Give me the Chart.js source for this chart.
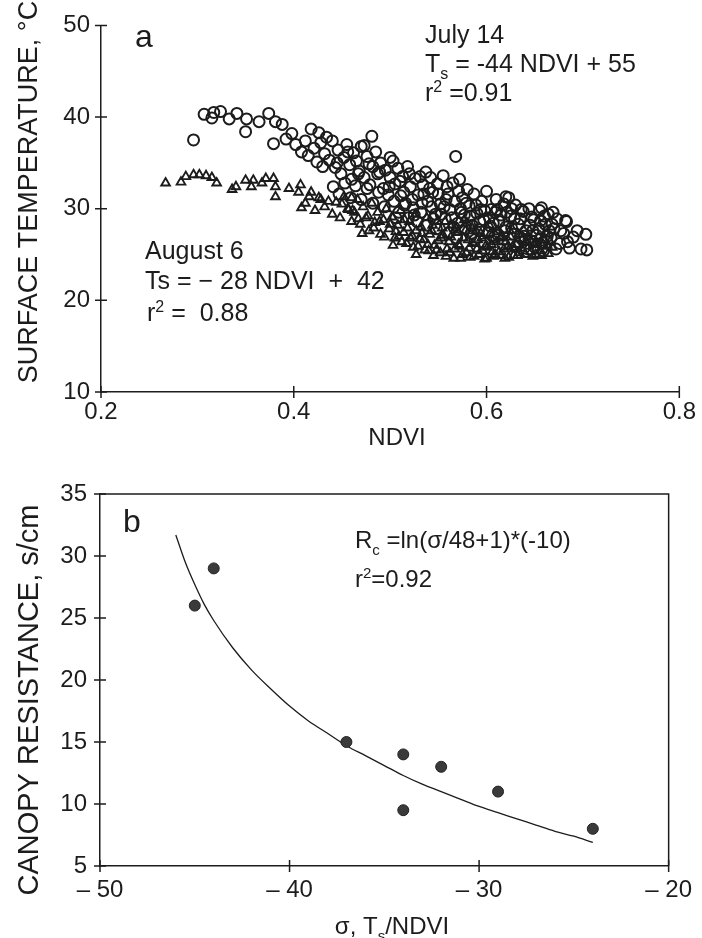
<!DOCTYPE html>
<html>
<head>
<meta charset="utf-8">
<script src="https://cdn.jsdelivr.net/npm/chart.js@4.4.1/dist/chart.umd.min.js"></script>
<style>
  html, body { margin: 0; padding: 0; background: #fff; }
  #chartA { position: absolute; left: 0; top: 0; }
  #chartB { position: absolute; left: 0; top: 460px; }
</style>
</head>
<body>
<canvas id="chartA" width="702" height="460"></canvas>
<canvas id="chartB" width="702" height="478"></canvas>
<script>
// ---- panel a: surface temperature vs NDVI ----
// July 14, open circles  [NDVI, Ts]
const julyPoints = [
  [0.296,37.5],[0.307,40.3],[0.317,40.5],[0.315,39.9],[0.324,40.6],[0.333,39.8],[0.341,40.4],
  [0.351,39.8],[0.350,38.4],[0.364,39.5],[0.374,40.4],[0.381,39.5],[0.388,39.2],[0.379,37.1],
  [0.392,37.6],[0.398,38.2],[0.418,38.7],[0.426,38.3],[0.434,37.8],[0.481,37.9],[0.473,36.9],
  [0.402,37.0],[0.408,36.2],[0.412,37.4],[0.415,35.8],[0.421,36.6],[0.424,35.1],[0.428,37.2],[0.430,34.6],
  [0.432,36.0],[0.437,35.3],[0.440,37.4],[0.443,34.5],[0.446,36.4],[0.449,33.8],[0.452,35.6],
  [0.455,37.0],[0.458,34.8],[0.460,33.2],[0.462,36.1],[0.445,35.0],[0.456,36.2],
  [0.465,35.2],[0.468,34.1],[0.470,36.8],[0.473,33.4],[0.476,35.7],[0.479,32.6],[0.482,34.6],
  [0.485,36.2],[0.487,33.8],[0.490,35.0],[0.493,32.2],[0.495,34.2],[0.498,31.5],[0.500,33.4],
  [0.467,33.8],[0.478,34.9],[0.489,34.0],[0.500,35.6],
  [0.441,32.4],[0.447,31.6],[0.453,32.8],[0.459,31.2],[0.464,32.5],[0.470,31.0],[0.476,32.2],
  [0.482,30.6],[0.488,31.8],[0.494,30.2],[0.499,32.4],
  [0.503,35.2],[0.505,32.7],[0.508,34.4],[0.511,31.4],[0.513,33.5],[0.516,30.6],[0.518,34.6],
  [0.521,32.4],[0.524,30.1],[0.526,33.3],[0.529,31.5],[0.532,29.6],[0.534,32.6],[0.537,34.0],[0.539,30.8],
  [0.510,33.0],[0.520,33.8],[0.531,33.5],[0.541,32.2],
  [0.504,30.8],[0.509,29.6],[0.514,31.8],[0.519,29.0],[0.523,31.0],[0.528,28.6],[0.533,30.6],
  [0.538,28.2],[0.543,30.2],[0.548,27.8],[0.553,29.4],[0.558,31.0],[0.561,27.4],
  [0.506,29.0],[0.515,30.4],[0.525,29.3],[0.535,31.6],[0.545,28.9],[0.556,30.2],
  [0.542,33.4],[0.544,31.8],[0.547,29.4],[0.549,32.7],[0.552,30.5],[0.555,33.6],[0.557,28.9],
  [0.560,31.6],[0.562,29.9],[0.565,32.8],[0.567,30.8],[0.570,28.4],[0.572,33.2],[0.575,31.2],
  [0.577,29.3],[0.580,32.1],[0.568,35.7],[0.550,31.6],[0.559,32.4],[0.571,31.9],[0.579,30.6],
  [0.564,29.0],[0.569,26.8],[0.573,30.0],[0.578,27.8],[0.583,29.2],[0.588,26.6],[0.593,28.6],
  [0.598,26.2],[0.603,29.0],[0.608,26.9],[0.613,28.6],[0.617,26.1],[0.621,29.6],
  [0.566,28.0],[0.574,29.6],[0.584,27.3],[0.594,29.9],[0.604,28.1],[0.611,29.9],[0.619,27.6],
  [0.582,30.3],[0.585,28.2],[0.587,31.6],[0.590,29.5],[0.592,27.7],[0.595,30.8],[0.597,28.8],
  [0.600,31.9],[0.602,27.4],[0.605,29.9],[0.607,28.4],[0.610,31.0],[0.612,27.1],[0.615,29.3],
  [0.618,30.5],[0.620,28.0],[0.620,31.3],[0.589,30.4],[0.598,29.8],[0.609,29.6],
  [0.623,31.2],[0.625,29.2],[0.628,27.2],[0.630,30.4],[0.633,28.3],[0.636,26.8],[0.638,29.7],
  [0.641,27.6],[0.644,30.0],[0.646,26.5],[0.649,28.8],[0.652,27.1],[0.655,29.8],[0.657,30.1],[0.658,26.3],
  [0.626,30.0],[0.636,29.9],[0.647,29.1],[0.660,29.2],[0.669,29.6],
  [0.629,28.9],[0.639,27.0],[0.648,27.6],[0.656,28.7],[0.665,27.6],
  [0.626,27.9],[0.631,25.9],[0.635,28.9],[0.640,26.6],[0.645,28.2],[0.650,25.8],[0.654,27.8],
  [0.659,25.4],[0.663,27.0],[0.668,28.3],[0.672,25.6],[0.677,27.6],[0.684,26.4],
  [0.661,28.3],[0.664,29.4],[0.667,26.8],[0.670,27.8],[0.673,28.9],[0.676,26.2],[0.680,27.3],
  [0.682,28.7],[0.683,28.6],[0.686,25.7],[0.690,26.9],[0.694,27.6],[0.698,25.6],[0.703,27.2],[0.704,25.5]
];
// August 6, open triangles  [NDVI, Ts]
const augPoints = [
  [0.267,32.8],[0.283,32.9],[0.288,33.5],[0.296,33.7],[0.302,33.7],[0.309,33.6],[0.315,33.4],
  [0.320,32.8],[0.336,32.1],[0.340,32.4],[0.350,33.1],[0.356,32.4],[0.358,33.1],[0.367,32.8],
  [0.371,33.3],[0.379,33.3],[0.381,32.4],[0.381,31.3],[0.395,32.2],[0.407,32.6],[0.405,31.8],
  [0.408,30.1],[0.416,31.3],[0.426,31.2],[0.436,30.8],[0.440,29.4],[0.450,30.5],[0.460,31.2],[0.457,29.9],
  [0.412,30.6],[0.418,31.8],[0.422,29.8],[0.428,31.0],[0.432,30.2],[0.444,30.7],[0.448,29.0],
  [0.452,31.3],[0.456,30.0],[0.460,28.6],
  [0.463,29.6],[0.466,31.0],[0.469,28.3],[0.472,30.2],[0.475,29.0],[0.478,27.6],[0.481,30.6],
  [0.484,28.5],[0.487,29.6],[0.490,27.2],[0.493,28.8],[0.496,30.0],[0.499,27.8],
  [0.461,29.8],[0.467,28.9],[0.471,27.3],[0.477,29.2],[0.483,27.9],[0.489,28.6],[0.494,26.9],
  [0.500,28.3],[0.506,27.5],[0.512,26.4],[0.518,27.9],[0.524,25.8],
  [0.502,29.1],[0.505,26.8],[0.508,28.2],[0.511,29.8],[0.514,27.4],[0.517,26.2],[0.520,28.6],
  [0.523,27.0],[0.526,29.4],[0.529,25.9],[0.532,28.0],[0.535,26.6],[0.538,29.0],[0.540,25.4],
  [0.503,26.0],[0.509,27.0],[0.515,28.8],[0.521,26.8],[0.527,25.0],[0.533,27.3],[0.539,26.1],
  [0.527,27.6],[0.531,26.7],[0.536,25.5],[0.541,27.2],[0.545,24.9],[0.550,26.5],[0.554,27.9],
  [0.559,25.6],[0.563,26.9],[0.566,24.6],[0.571,26.1],[0.575,25.0],[0.578,27.6],
  [0.544,28.2],[0.548,25.5],[0.553,26.8],[0.557,28.6],[0.562,25.2],[0.568,27.9],[0.572,25.9],
  [0.577,28.8],[0.581,26.6],[0.585,27.9],
  [0.543,27.6],[0.546,26.0],[0.549,28.6],[0.552,25.2],[0.555,27.1],[0.558,24.8],[0.561,26.4],
  [0.564,28.2],[0.567,25.6],[0.570,27.4],[0.573,24.6],[0.576,26.8],[0.579,25.2],[0.580,28.4],
  [0.582,25.7],[0.587,24.8],[0.591,26.6],[0.596,25.4],[0.600,24.6],[0.605,26.1],[0.609,25.0],
  [0.614,26.8],[0.618,25.6],[0.623,24.7],[0.627,25.8],[0.632,24.9],[0.636,25.7],[0.641,26.4],
  [0.646,25.3],[0.651,25.0],[0.658,25.9],[0.663,26.0],
  [0.590,25.6],[0.594,27.3],[0.599,25.9],[0.603,28.2],[0.606,25.3],[0.611,27.5],[0.615,24.9],
  [0.620,26.4],[0.624,27.6],[0.629,25.6],[0.633,27.2],[0.638,25.4],[0.643,27.0],[0.649,26.1],
  [0.654,26.9],[0.657,24.9],[0.662,27.2],[0.666,26.4],
  [0.583,24.7],[0.586,26.2],[0.589,27.6],[0.592,25.0],[0.595,26.8],[0.598,24.5],[0.601,25.8],
  [0.604,27.3],[0.607,24.8],[0.610,26.4],[0.613,25.3],[0.616,27.0],[0.619,24.6],[0.622,25.9],
  [0.625,26.9],[0.628,24.9],[0.631,26.1],[0.634,25.2],[0.637,26.6],
  [0.640,25.0],[0.644,25.9],[0.648,24.8],[0.652,26.3],[0.656,25.4],[0.660,26.6],[0.664,25.1],[0.668,25.8]
];
const aTickX = [0.2, 0.4, 0.6, 0.8];
const aTickXLabels = ['0.2', '0.4', '0.6', '0.8'];
const aTickY = [10, 20, 30, 40, 50];
const aTickYLabels = ['10', '20', '30', '40', '50'];

// ---- panel b: canopy resistance vs sigma ----
const sigmaObs = [-45, -44, -37, -34, -34, -32, -29, -24];
const rcObs = [26, 29, 15, 14, 9.5, 13, 11, 8];
// fitted curve
const sigmaCurve = [-46, -45.5, -45, -44.5, -44, -43, -42, -41, -40, -39, -38, -37, -36, -35,
                    -34, -33, -32, -31, -30, -29, -28, -27, -26, -25, -24];
const rcCurve = [31.7, 29.5, 27.7, 26.1, 24.8, 22.6, 20.8, 19.3, 17.9, 16.7, 15.7, 14.7, 13.9, 13.1,
                 12.3, 11.6, 11.0, 10.4, 9.8, 9.3, 8.8, 8.3, 7.8, 7.4, 6.9];
const bTickX = [-50, -40, -30, -20];
const bTickXLabels = ['\u2013 50', '\u2013 40', '\u2013 30', '\u2013 20'];
const bTickY = [5, 10, 15, 20, 25, 30, 35];
const bTickYLabels = ['5', '10', '15', '20', '25', '30', '35'];

const INK = '#1c1c1c';
const FONT = "'Liberation Sans', Arial, sans-serif";

// ticks that cross the axis line, plus optional full frame
const crossTicks = {
  id: 'crossTicks',
  afterDraw(chart, args, opts) {
    const {ctx, chartArea: ca} = chart;
    ctx.save();
    ctx.strokeStyle = INK;
    ctx.lineWidth = 1.5;
    const xs = chart.scales.x, ys = chart.scales.y;
    ctx.beginPath();
    xs.ticks.forEach(t => {
      const px = xs.getPixelForValue(t.value);
      ctx.moveTo(px, ca.bottom - opts.len);
      ctx.lineTo(px, ca.bottom + opts.len);
    });
    ys.ticks.forEach(t => {
      const py = ys.getPixelForValue(t.value);
      ctx.moveTo(ca.left - opts.len, py);
      ctx.lineTo(ca.left + opts.len, py);
    });
    ctx.stroke();
    if (opts.frame) {
      ctx.beginPath();
      ctx.moveTo(ca.left, ca.top);
      ctx.lineTo(ca.right, ca.top);
      ctx.lineTo(ca.right, ca.bottom);
      ctx.stroke();
    }
    ctx.restore();
  }
};

// text with sub/superscripts
const notes = {
  id: 'notes',
  afterDraw(chart, args, opts) {
    const ctx = chart.ctx;
    (opts.items || []).forEach(item => {
      const size = item.size;
      const fontFor = m => (m ? Math.round(size * 0.64) : size) + 'px ' + FONT;
      const segs = item.parts.map(p => Array.isArray(p) ? {t: p[0], m: p[1]} : {t: p, m: ''});
      ctx.save();
      ctx.fillStyle = INK;
      ctx.textBaseline = 'alphabetic';
      ctx.textAlign = 'left';
      let total = 0;
      segs.forEach(s => { ctx.font = fontFor(s.m); s.w = ctx.measureText(s.t).width; total += s.w; });
      ctx.translate(item.x, item.y);
      if (item.rotate) ctx.rotate(-Math.PI / 2);
      let x = item.center ? -total / 2 : 0;
      segs.forEach(s => {
        ctx.font = fontFor(s.m);
        const dy = s.m === 'sub' ? size * 0.28 : (s.m === 'sup' ? -size * 0.36 : 0);
        ctx.fillText(s.t, x, dy);
        x += s.w;
      });
      ctx.restore();
    });
  }
};

function fixedTicks(values) {
  return scale => { scale.ticks = values.map(v => ({value: v})); };
}

new Chart(document.getElementById('chartA'), {
  type: 'scatter',
  data: {
    datasets: [
      {
        label: 'July 14',
        data: julyPoints.map(p => ({x: p[0], y: p[1]})),
        pointStyle: 'circle',
        pointRadius: 5.5,
        borderColor: INK,
        backgroundColor: 'rgba(0,0,0,0)',
        borderWidth: 2
      },
      {
        label: 'August 6',
        data: augPoints.map(p => ({x: p[0], y: p[1]})),
        pointStyle: 'triangle',
        pointRadius: 5,
        borderColor: INK,
        backgroundColor: 'rgba(0,0,0,0)',
        borderWidth: 1.9
      }
    ]
  },
  options: {
    responsive: false,
    animation: false,
    events: [],
    layout: { padding: { left: 0, right: 21, top: 17, bottom: 0 }, autoPadding: false },
    plugins: {
      legend: { display: false },
      tooltip: { enabled: false },
      crossTicks: { len: 6, frame: false },
      notes: {
        items: [
          { x: 135, y: 47, size: 32, parts: ['a'] },
          { x: 425, y: 43, size: 25, parts: ['July 14'] },
          { x: 425, y: 72, size: 25, parts: ['T', ['s', 'sub'], ' = -44 NDVI + 55'] },
          { x: 425, y: 101, size: 25, parts: ['r', ['2', 'sup'], ' =0.91'] },
          { x: 145, y: 259, size: 25, parts: ['August 6'] },
          { x: 145, y: 289, size: 25, parts: ['Ts = \u2212 28 NDVI  +  42'] },
          { x: 147, y: 321, size: 25, parts: ['r', ['2', 'sup'], ' =  0.88'] },
          { x: 397, y: 445, size: 24, center: true, parts: ['NDVI'] },
          { x: 37, y: 192, size: 27, center: true, rotate: true, parts: ['SURFACE TEMPERATURE, \u00b0C'] }
        ]
      }
    },
    scales: {
      x: {
        type: 'linear', min: 0.2, max: 0.8,
        afterBuildTicks: fixedTicks(aTickX),
        afterFit: s => { s.height = 68; },
        grid: { display: false, drawTicks: false },
        border: { display: true, color: INK, width: 1.5 },
        ticks: { padding: 6, color: INK, font: { family: FONT, size: 24 }, maxRotation: 0,
                 callback: (v, i) => aTickXLabels[i] }
      },
      y: {
        type: 'linear', min: 10, max: 50,
        afterBuildTicks: fixedTicks(aTickY),
        afterFit: s => { s.width = 101; },
        grid: { display: false, drawTicks: false },
        border: { display: true, color: INK, width: 1.5 },
        ticks: { padding: 11, color: INK, font: { family: FONT, size: 24 },
                 callback: (v, i) => aTickYLabels[i] }
      }
    }
  },
  plugins: [crossTicks, notes]
});

new Chart(document.getElementById('chartB'), {
  type: 'scatter',
  data: {
    datasets: [
      {
        label: 'observed',
        data: sigmaObs.map((s, i) => ({x: s, y: rcObs[i]})),
        order: 0,
        pointRadius: 5.5,
        backgroundColor: '#3a3a3a',
        borderColor: '#222',
        borderWidth: 1
      },
      {
        label: 'fit',
        data: sigmaCurve.map((s, i) => ({x: s, y: rcCurve[i]})),
        order: 1,
        showLine: true,
        pointRadius: 0,
        borderColor: INK,
        borderWidth: 1.3,
        cubicInterpolationMode: 'monotone'
      }
    ]
  },
  options: {
    responsive: false,
    animation: false,
    events: [],
    layout: { padding: { left: 0, right: 24, top: 34, bottom: 0 }, autoPadding: false },
    plugins: {
      legend: { display: false },
      tooltip: { enabled: false },
      crossTicks: { len: 6, frame: true },
      notes: {
        items: [
          { x: 123, y: 72, size: 32, parts: ['b'] },
          { x: 355, y: 88, size: 24, parts: ['R', ['c', 'sub'], ' =ln(\u03c3/48+1)*(-10)'] },
          { x: 355, y: 127, size: 24, parts: ['r', ['2', 'sup'], '=0.92'] },
          { x: 392, y: 474, size: 24, center: true, parts: ['\u03c3, T', ['s', 'sub'], '/NDVI'] },
          { x: 38, y: 240, size: 29, center: true, rotate: true, parts: ['CANOPY RESISTANCE, s/cm'] }
        ]
      }
    },
    scales: {
      x: {
        type: 'linear', min: -50, max: -20,
        afterBuildTicks: fixedTicks(bTickX),
        afterFit: s => { s.height = 72; },
        grid: { display: false, drawTicks: false },
        border: { display: true, color: INK, width: 1.5 },
        ticks: { padding: 10, color: INK, font: { family: FONT, size: 24 }, maxRotation: 0,
                 callback: (v, i) => bTickXLabels[i] }
      },
      y: {
        type: 'linear', min: 5, max: 35,
        afterBuildTicks: fixedTicks(bTickY),
        afterFit: s => { s.width = 100; },
        grid: { display: false, drawTicks: false },
        border: { display: true, color: INK, width: 1.5 },
        ticks: { padding: 13, color: INK, font: { family: FONT, size: 24 },
                 callback: (v, i) => bTickYLabels[i] }
      }
    }
  },
  plugins: [crossTicks, notes]
});
</script>
</body>
</html>
